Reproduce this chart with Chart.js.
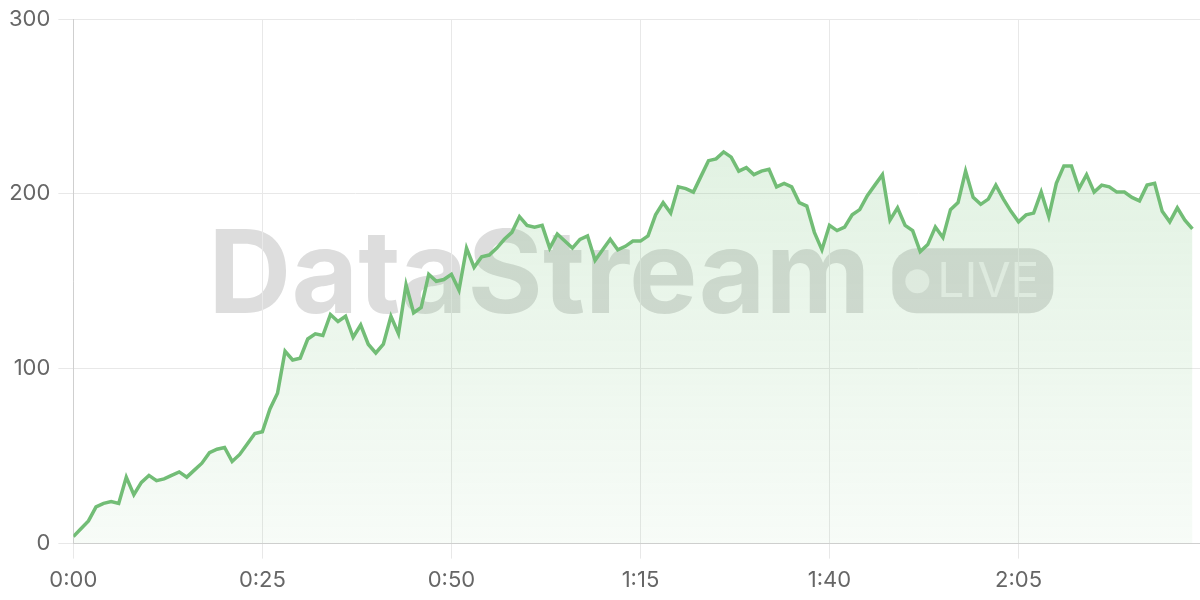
<!DOCTYPE html>
<html>
<head>
<meta charset="utf-8">
<title>DataStream LIVE</title>
<script src="https://cdn.jsdelivr.net/npm/chart.js@4"></script>
<style>
  html, body { margin: 0; padding: 0; background: #fff; }
  #wrap { width: 1200px; height: 600px; position: relative; }
</style>
</head>
<body>
<div id="wrap"><canvas id="chart"></canvas></div>
<script>
// readings, one per second, starting at 0:00
const values = [
  4, 8.5, 13, 21, 23, 24, 23, 38, 28, 35,
  39, 36, 37, 39, 41, 38, 42, 46, 52, 54,
  55, 47, 51, 57, 63, 64, 77, 86, 110, 105,
  106, 117, 120, 119, 131, 127, 130, 118, 125, 114,
  109, 114, 130, 120, 148, 132, 135, 154, 150, 151,
  154, 145, 169, 158, 164, 165, 169, 174, 178, 187,
  182, 181, 182, 169, 177, 173, 169, 174, 176, 162,
  168, 174, 168, 170, 173, 173, 176, 188, 195, 189,
  204, 203, 201, 210, 219, 220, 224, 221, 213, 215,
  211, 213, 214, 204, 206, 204, 195, 193, 178, 168,
  182, 179, 181, 188, 191, 199, 205, 211, 185, 192,
  182, 179, 167, 171, 181, 175, 191, 195, 213, 198,
  194, 197, 205, 197, 190, 184, 188, 189, 201, 187,
  206, 216, 216, 203, 211, 201, 205, 204, 201, 201,
  198, 196, 205, 206, 190, 184, 192, 185, 180
];
const xMax = 149;       // seconds shown on the axis
const xStep = 25;       // tick every 25 s
const yTicks = [0, 100, 200, 300];
const watermarkText = "DataStream";
const badgeText = "LIVE";

function fmtTime(s) {
  return `${Math.floor(s / 60)}:${String(s % 60).padStart(2, "0")}`;
}

// big faint logo behind the grid
const watermark = {
  id: "watermark",
  beforeDraw(chart) {
    const { ctx, chartArea: a } = chart;
    const cy = (a.top + a.bottom) / 2;
    ctx.save();
    ctx.fillStyle = "rgba(120,120,120,0.25)";
    ctx.font = "bold 115px Inter";
    ctx.textBaseline = "alphabetic";
    ctx.fillText(watermarkText, a.left + 135, cy + 32);
    // badge
    const px = a.left + 819, py = cy - 33, pillW = 161, pillH = 65;
    ctx.beginPath();
    ctx.roundRect(px, py, pillW, pillH, 24);
    ctx.fill();
    ctx.fillStyle = "rgba(255,255,255,0.6)";
    ctx.beginPath();
    ctx.arc(px + 25, cy, 12, 0, Math.PI * 2);
    ctx.fill();
    ctx.font = "48px Inter";
    ctx.textBaseline = "middle";
    ctx.fillText(badgeText, px + 45, cy + 1);
    ctx.restore();
  }
};

const ctx = document.getElementById("chart").getContext("2d");
new Chart(ctx, {
  type: "line",
  data: {
    datasets: [{
      data: values.map((v, i) => ({ x: i, y: v })),
      borderColor: "#72bd76",
      borderWidth: 3.5,
      pointRadius: 0,
      tension: 0,
      fill: "origin",
      backgroundColor: (c) => {
        const a = c.chart.chartArea;
        if (!a) return "rgba(102,187,106,0.12)";
        const g = c.chart.ctx.createLinearGradient(0, a.top, 0, a.bottom);
        g.addColorStop(0, "rgba(102,187,106,0.24)");
        g.addColorStop(1, "rgba(102,187,106,0.05)");
        return g;
      }
    }]
  },
  options: {
    responsive: true,
    maintainAspectRatio: false,
    animation: false,
    layout: { padding: { top: 1, right: 0, bottom: -3, left: 1 } },
    plugins: { legend: { display: false }, tooltip: { enabled: false } },
    scales: {
      x: {
        type: "linear",
        min: 0,
        max: xMax,
        grid: { color: "#e8e8e8", tickLength: 15 },
        border: { color: "#cfcfcf" },
        ticks: {
          stepSize: xStep,
          includeBounds: false,
          padding: 9,
          color: "#666",
          font: { family: "Inter", size: 22 },
          maxRotation: 0,
          callback: (v) => fmtTime(v)
        }
      },
      y: {
        min: 0,
        max: 300,
        afterBuildTicks: (s) => { s.ticks = yTicks.map(v => ({ value: v })); },
        grid: { color: "#e8e8e8", tickLength: 15 },
        border: { color: "#cfcfcf" },
        ticks: {
          padding: 8,
          color: "#666",
          font: { family: "Inter", size: 22, lineHeight: 1.0 }
        }
      }
    }
  },
  plugins: [watermark]
});
</script>
</body>
</html>
